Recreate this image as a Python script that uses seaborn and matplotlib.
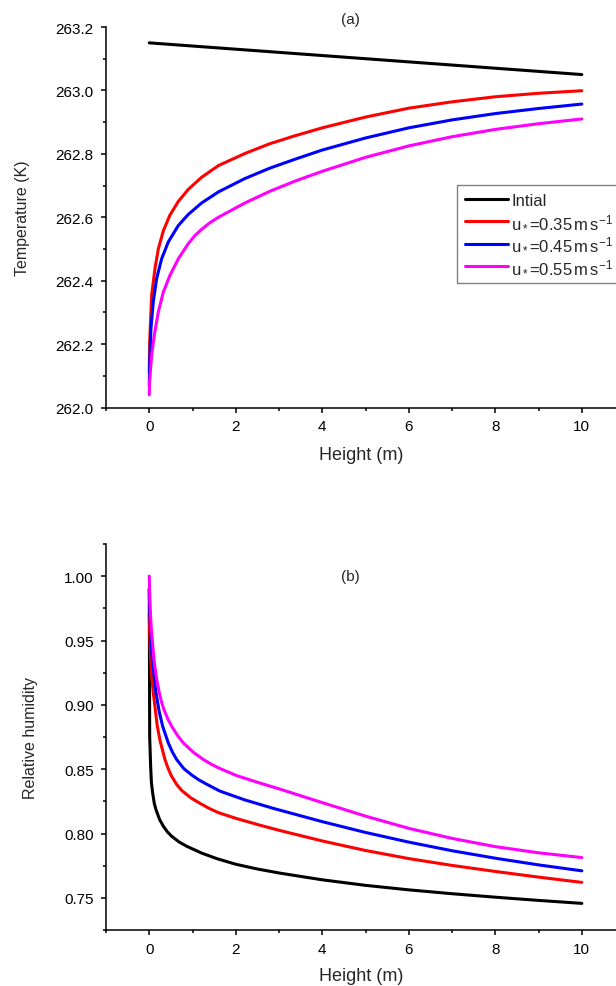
import matplotlib
matplotlib.use("Agg")
import matplotlib.pyplot as plt
from matplotlib.ticker import MultipleLocator, FormatStrFormatter
import seaborn as sns
import pandas as pd

# ---------------- data ----------------
labels = ["Intial",
          r"u$_*$=0.35$\,$m$\,$s$^{-1}$",
          r"u$_*$=0.45$\,$m$\,$s$^{-1}$",
          r"u$_*$=0.55$\,$m$\,$s$^{-1}$"]
colors = ["#000000", "#FF0000", "#0000FF", "#FF00FF"]

# panel (a): temperature (K) vs height (m)
h_a_init = [0, 2, 4, 6, 8, 10]
t_init = [263.15, 263.13, 263.11, 263.09, 263.07, 263.05]

h_a_035 = [0.0, 0.01, 0.055, 0.132, 0.209, 0.325, 0.479, 0.672, 0.903, 1.21, 1.6, 2.21,
           2.79, 3.37, 4, 5, 6, 7, 8, 9, 10]
t_035 = [262.11, 262.207, 262.354, 262.438, 262.500, 262.557, 262.607, 262.650, 262.688,
         262.726, 262.763, 262.801, 262.832, 262.857, 262.882, 262.916, 262.944, 262.964,
         262.980, 262.991, 262.999]

h_a_045 = [0.0, 0.01, 0.039, 0.093, 0.17, 0.286, 0.44, 0.672, 0.903, 1.21, 1.6, 2.21,
           2.79, 3.37, 4, 5, 6, 7, 8, 9, 10]
t_045 = [262.07, 262.144, 262.249, 262.333, 262.406, 262.469, 262.522, 262.574, 262.609,
         262.645, 262.680, 262.722, 262.755, 262.783, 262.812, 262.850, 262.882, 262.907,
         262.927, 262.943, 262.957]

h_a_055 = [0.0, 0.008, 0.055, 0.116, 0.209, 0.325, 0.479, 0.672, 0.903, 1.055, 1.21, 1.405,
           1.6, 2.21, 2.79, 3.37, 4, 5, 6, 7, 8, 9, 10]
t_055 = [262.04, 262.081, 262.165, 262.228, 262.301, 262.364, 262.417, 262.469, 262.517,
         262.542, 262.562, 262.583, 262.600, 262.645, 262.682, 262.714, 262.745, 262.789,
         262.825, 262.854, 262.877, 262.895, 262.910]

# panel (b): relative humidity vs height (m)
h_b_init = [0.0, 0.01, 0.032, 0.05, 0.078, 0.1165, 0.155, 0.24, 0.325, 0.421, 0.517, 0.69,
            0.864, 1.21, 1.56, 2, 2.5, 3.02, 4, 5, 6, 7, 8, 9, 10]
rh_init = [0.99, 0.875, 0.8523, 0.8395, 0.8316, 0.8233, 0.8186, 0.8108, 0.8057, 0.8012,
           0.7979, 0.7934, 0.7901, 0.7848, 0.7805, 0.7761, 0.7724, 0.7692, 0.7640, 0.7597,
           0.7562, 0.7532, 0.7505, 0.7480, 0.7457]

h_b_035 = [0.0, 0.02, 0.05, 0.093, 0.186, 0.247, 0.363, 0.44, 0.517, 0.633, 0.749, 0.96,
           1.17, 1.385, 1.6, 2, 2.5, 3, 4, 5, 6, 7, 8, 9, 10]
rh_035 = [0.97, 0.945, 0.925, 0.9093, 0.8834, 0.8725, 0.8575, 0.8502, 0.8445, 0.8381,
          0.8335, 0.8277, 0.8235, 0.8195, 0.8162, 0.8118, 0.8070, 0.8025, 0.7942, 0.7868,
          0.7805, 0.7752, 0.7705, 0.7661, 0.7620]

h_b_045 = [0.0, 0.015, 0.035, 0.07, 0.155, 0.232, 0.309, 0.44, 0.5365, 0.633, 0.7965,
           0.98, 1.14, 1.3, 1.63, 2.2, 2.87, 4, 5, 6, 7, 8, 9, 10]
rh_045 = [0.99, 0.97, 0.952, 0.9352, 0.9093, 0.8944, 0.8834, 0.8704, 0.8632, 0.8575,
          0.8505, 0.8455, 0.8418, 0.8388, 0.8330, 0.8262, 0.8195, 0.8092, 0.8008, 0.7933,
          0.7866, 0.7808, 0.7756, 0.7710]

h_b_055 = [0.0, 0.015, 0.05, 0.109, 0.17, 0.232, 0.286, 0.34, 0.4285, 0.517, 0.652, 0.787,
           1.02, 1.25, 1.425, 1.6, 2.02, 2.5, 3.02, 4, 5, 6, 7, 8, 9, 10]
rh_055 = [1.0, 0.978, 0.958, 0.9352, 0.9202, 0.9093, 0.9019, 0.8963, 0.8891, 0.8834,
          0.8762, 0.8704, 0.8631, 0.8575, 0.8540, 0.8510, 0.8450, 0.8398, 0.8345, 0.8240,
          0.8135, 0.8040, 0.7962, 0.7898, 0.7850, 0.7813]

# ---------------- style ----------------
sns.set_style("ticks")
plt.rcParams["font.family"] = ["Liberation Sans", "DejaVu Sans"]
plt.rcParams["mathtext.fontset"] = "custom"
plt.rcParams["mathtext.rm"] = "Liberation Sans"
plt.rcParams["mathtext.it"] = "Liberation Sans"
plt.rcParams["mathtext.default"] = "regular"

W, H = 616, 987
fig = plt.figure(figsize=(W / 100, H / 100), dpi=100)
ax1 = fig.add_axes([106 / W, 1 - 408.5 / H, 510 / W, 380.5 / H])
ax2 = fig.add_axes([106 / W, 1 - 931 / H, 510 / W, 386 / H])

LW = 2.2

# panel (a)
series_a = [(h_a_init, t_init), (h_a_035, t_035), (h_a_045, t_045), (h_a_055, t_055)]
for (xs, ys), lab, col in zip(series_a, labels, colors):
    df = pd.DataFrame({"Height": xs, "T": ys})
    sns.lineplot(data=df, x="Height", y="T", ax=ax1, color=col, lw=LW,
                 label=lab, estimator=None, sort=True)

# panel (b)
series_b = [(h_b_init, rh_init), (h_b_035, rh_035), (h_b_045, rh_045), (h_b_055, rh_055)]
for (xs, ys), col in zip(series_b, colors):
    df = pd.DataFrame({"Height": xs, "RH": ys})
    sns.lineplot(data=df, x="Height", y="RH", ax=ax2, color=col, lw=LW,
                 estimator=None, sort=True, legend=False)

# axes formatting
for ax in (ax1, ax2):
    ax.set_xlim(-1, 10.79)
    ax.xaxis.set_major_locator(MultipleLocator(2))
    ax.xaxis.set_minor_locator(MultipleLocator(1))
    ax.xaxis.set_major_formatter(FormatStrFormatter("%d"))
    for s in ("top", "right"):
        ax.spines[s].set_visible(False)
    for s in ("left", "bottom"):
        ax.spines[s].set_linewidth(1.1)
        ax.spines[s].set_color("black")
    ax.tick_params(which="major", direction="out", length=3.8, width=1.1,
                   labelsize=11, colors="black")
    ax.tick_params(which="minor", direction="out", length=2.3, width=1.1, colors="black")
    ax.tick_params(axis="x", which="major", pad=4.5)
    ax.tick_params(axis="y", which="major", pad=5)
    ax.set_xlabel("Height (m)", fontsize=13)

ax1.set_ylim(262.0, 263.2)
ax1.yaxis.set_major_locator(MultipleLocator(0.2))
ax1.yaxis.set_minor_locator(MultipleLocator(0.1))
ax1.yaxis.set_major_formatter(FormatStrFormatter("%.1f"))
ax1.set_ylabel("Temperature (K)", fontsize=11.5)
ax1.yaxis.set_label_coords(-0.149, 0.5)
ax1.xaxis.set_label_coords(0.5, -0.102)
ax1.text(4.66, 263.225, "(a)", ha="center", va="center", fontsize=11, clip_on=False)

ax2.set_ylim(0.725, 1.025)
ax2.yaxis.set_major_locator(MultipleLocator(0.05))
ax2.yaxis.set_minor_locator(MultipleLocator(0.025))
ax2.yaxis.set_major_formatter(FormatStrFormatter("%.2f"))
ax2.set_ylabel("Relative humidity", fontsize=11.5)
ax2.yaxis.set_label_coords(-0.133, 0.5)
ax2.xaxis.set_label_coords(0.5, -0.096)
ax2.text(4.64, 1.0, "(b)", ha="center", va="center", fontsize=11)

leg = ax1.legend(loc="upper left", bbox_to_anchor=(457 / W, 1 - 186 / H),
                 bbox_transform=fig.transFigure, fontsize=12, frameon=True,
                 fancybox=False, framealpha=1, edgecolor="#808080",
                 handlelength=2.6, handletextpad=0.2, labelspacing=0.32,
                 borderpad=0.45, borderaxespad=0)
leg.get_frame().set_linewidth(1.0)

fig.savefig("out.png", dpi=100)
